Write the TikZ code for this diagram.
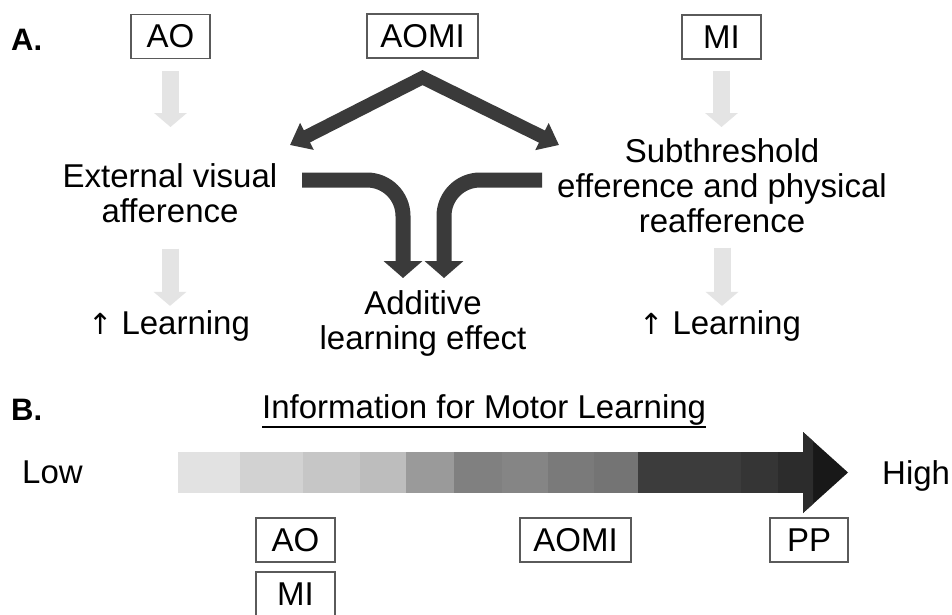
\documentclass[tikz,border=0pt]{standalone}
\usepackage{fontspec}
\setmainfont{Liberation Sans}
\newfontfamily\symfont{DejaVu Sans}
\usetikzlibrary{arrows.meta}
\definecolor{dark}{HTML}{3A3A3A}
\definecolor{light}{HTML}{E4E4E4}
\definecolor{boxline}{HTML}{5A5A5A}
\begin{document}
\begin{tikzpicture}[x=1pt,y=-1pt,
  every node/.style={font=\fontsize{33}{35}\selectfont, inner sep=0pt, text=black},
  lbl/.style={align=center},
  tag/.style={draw=boxline, line width=1.2pt, minimum height=44pt},
  panel/.style={font=\fontsize{31}{33}\selectfont\bfseries},
  lightarr/.style={light, line width=17pt, -{Triangle[width=32pt,length=14pt]}},
  darkarr/.style={dark, line width=15pt, -{Triangle[width=38pt,length=17pt]}},
  roofarr/.style={dark, line width=13.5pt, line join=miter,
     {Triangle[width=29pt,length=19pt]}-{Triangle[width=29pt,length=19pt]}},
]
\useasboundingbox (0,0) rectangle (952,614);
\fill[white] (0,0) rectangle (952,614);

% ---------------- Panel A ----------------
\node[panel, anchor=base west] (labA) at (11,50) {A.};
\node[tag, minimum width=79pt]  (ao)   at (170.5,36.5) {AO};
\node[tag, minimum width=111pt] (aomi) at (422.5,36)   {AOMI};
\node[tag, minimum width=79pt]  (mi)   at (721.5,37)   {MI};

\node[lbl, anchor=north] (ext) at (170,163) {External visual\\afference};
\node[lbl, anchor=north] (sub) at (722,138) {Subthreshold\\efference and physical\\reafference};
\node[lbl, anchor=north] (add) at (423,290) {Additive\\learning effect};
\node[anchor=base] (learnL) at (169,334) {{\symfont\fontsize{29}{30}\selectfont ↑} Learning};
\node[anchor=base] (learnR) at (720,334) {{\symfont\fontsize{29}{30}\selectfont ↑} Learning};

% light arrows
\draw[lightarr, shorten <=12pt, shorten >=36pt] (ao.south) -- (ao.south |- ext.north);
\draw[lightarr, shorten <=26pt, shorten >=4pt] (ext.south) -- (ext.south |- learnL.north);
\draw[lightarr, shorten <=11pt, shorten >=11pt] (mi.south) -- (mi.south |- sub.north);
\draw[lightarr, shorten <=15pt, shorten >=4pt] (sub.south) -- (sub.south |- learnR.north);

% roof arrows from AOMI
\coordinate (roofL) at (290,145);
\coordinate (roofR) at (559,145);
\draw[roofarr] (roofL) -- ([yshift=-19pt]aomi.south) -- (roofR);

% converging arrows
\coordinate (cL) at (302,180);
\coordinate (cR) at (542,180);
\draw[darkarr, rounded corners=36pt, shorten >=12pt] (cL) -| ([xshift=-20pt]add.north);
\draw[darkarr, rounded corners=36pt, shorten >=12pt] (cR) -| ([xshift=21pt]add.north);

% ---------------- Panel B ----------------
\node[panel, anchor=base west] (labB) at (11,420) {B.};
\node[anchor=base west] (info) at (262,418) {Information for Motor Learning};
\draw[line width=1.5pt] ([yshift=-2pt]info.south west) -- ([yshift=-2pt]info.south east);

\node[anchor=base west] (low)  at (22,483)  {Low};
\node[anchor=base west] (high) at (882,484) {High};

% gradient bar
\fill[fill={rgb,255:red,226;green,226;blue,226}] (178,452) rectangle (240,493);
\fill[fill={rgb,255:red,210;green,210;blue,210}] (240,452) rectangle (303,493);
\fill[fill={rgb,255:red,198;green,198;blue,198}] (303,452) rectangle (360,493);
\fill[fill={rgb,255:red,189;green,189;blue,189}] (360,452) rectangle (406,493);
\fill[fill={rgb,255:red,154;green,154;blue,154}] (406,452) rectangle (454,493);
\fill[fill={rgb,255:red,128;green,128;blue,128}] (454,452) rectangle (502,493);
\fill[fill={rgb,255:red,133;green,133;blue,133}] (502,452) rectangle (548,493);
\fill[fill={rgb,255:red,122;green,122;blue,122}] (548,452) rectangle (594,493);
\fill[fill={rgb,255:red,116;green,116;blue,116}] (594,452) rectangle (638,493);
\fill[fill={rgb,255:red,60;green,60;blue,60}]    (638,452) rectangle (741,493);
\fill[fill={rgb,255:red,53;green,53;blue,53}]    (741,452) rectangle (778,493);
\fill[fill={rgb,255:red,44;green,44;blue,44}]    (778,452) rectangle (804,493);
\fill[fill={rgb,255:red,24;green,24;blue,24}] (803,432) -- (848,472.5) -- (803,513) -- cycle;
\fill[fill={rgb,255:red,44;green,44;blue,44}] (803,432) -- (813,441) -- (813,504) -- (803,513) -- cycle;

\node[tag, minimum width=79pt]  (aoB)   at (295.5,540) {AO};
\node[tag, minimum width=79pt]  (miB)   at (295.5,594) {MI};
\node[tag, minimum width=111pt] (aomiB) at (575.5,540) {AOMI};
\node[tag, minimum width=78pt]  (ppB)   at (809,540)   {PP};
\end{tikzpicture}
\end{document}
